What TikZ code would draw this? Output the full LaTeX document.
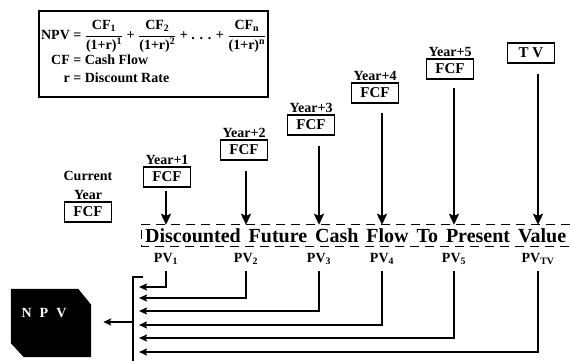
\documentclass[tikz,border=0pt]{standalone}
\usepackage{amsmath}
\usepackage{fontspec}
\setmainfont{Liberation Serif}
\usetikzlibrary{arrows.meta,positioning,calc}
\newcommand{\cfterm}[1]{$\dfrac{\text{CF\textsubscript{#1}}}{\text{(1+r)\textsuperscript{#1}}}$}

\begin{document}
\begin{tikzpicture}[
  x=1pt, y=-1pt,
  node distance=1pt,
  formbox/.style={draw, line width=2.2pt, anchor=north west, minimum width=219pt,
                  minimum height=86pt, inner sep=2pt, font=\fontsize{14}{17}\selectfont\bfseries},
  fcfbox/.style={draw, line width=1.3pt, minimum width=47pt, minimum height=20pt,
                 inner sep=1pt, font=\fontsize{15}{17}\selectfont\bfseries},
  yearlabel/.style={inner sep=1pt, align=center, font=\fontsize{14}{19}\selectfont\bfseries},
  pvlabel/.style={inner sep=1pt, font=\fontsize{14}{16}\selectfont\bfseries},
  dashtext/.style={inner xsep=4pt, minimum height=21pt, inner ysep=0pt,
                   font=\fontsize{20}{22}\selectfont\bfseries},
  dashline/.style={line width=1pt, dash pattern=on 9pt off 6pt},
  flowarrow/.style={line width=2.4pt, -{Stealth[length=11pt,width=10pt,inset=2pt]}},
  pvline/.style={line width=1.8pt, -{Stealth[length=8pt,width=7pt,inset=1.5pt]}},
  busline/.style={line width=1.8pt},
  npvbox/.style={minimum width=80pt, minimum height=68pt, inner sep=0pt},
  npvtext/.style={text=white, font=\fontsize{14}{16}\selectfont\bfseries},
]
  \useasboundingbox (0,0) rectangle (570,361);

  % Formula
  \node[formbox] (formula) at (38,10) {%
    \begin{tabular}{@{}r@{ = }l@{}}
      NPV & \cfterm{1} + \cfterm{2} + . . . + \cfterm{n}\\[3pt]
      CF & Cash Flow\\[1pt]
      r & Discount Rate
    \end{tabular}};

  % Cash flows per year
  \node[fcfbox] (f0) at (88,212) {FCF};
  \node[yearlabel, above=of f0] (y0) {Current\\Year};
  \foreach \i/\x/\y in {1/167/177, 2/244/150, 3/311/125, 4/375/93, 5/450/69} {
    \node[fcfbox] (f\i) at (\x,\y) {FCF};
    \node[yearlabel, above=of f\i] (y\i) {Year+\i};
  }
  \node[fcfbox] (tv) at (531,53) {T V};

  % Discounting row
  \node[dashtext, anchor=west] (dash) at (141,235.5)
    {\makebox[421pt][s]{Discounted Future Cash Flow To Present Value}};
  \draw[dashline] (dash.north east) -- (dash.north west) -- (dash.south west) -- (dash.south east);

  \foreach \n/\s/\x in {p1/1/166, p2/2/246, p3/3/319, p4/4/382, p5/5/454, ptv/TV/538}
    \node[pvlabel] (\n) at (\x,259) {PV\textsubscript{\s}};

  \foreach \f/\p/\g in {f1/p1/3, f2/p2/10, f3/p3/10, f4/p4/9, f5/p5/8, tv/ptv/10}
    \draw[flowarrow] ($(\f.south -| \p)+(0,\g)$) -- (\p |- dash.north);

  % Summing into NPV
  \coordinate (bustop) at (133,277);
  \coordinate (busbot) at (133,361);
  \coordinate (busmid) at (133,322);
  \draw[busline] ([xshift=10pt]bustop) -- (bustop) -- (busbot);
  \foreach \p/\y [count=\i] in {p1/287, p2/298, p3/311, p4/325, p5/338, ptv/352} {
    \coordinate (in\i) at (139,\y);
    \draw[pvline] ([yshift=-5pt]\p.south) |- (in\i);
  }

  \node[npvbox] (npv) at (51,323) {};
  \fill (npv.north west) -- ([xshift=-13pt]npv.north east) -- ([yshift=-16pt]npv.north east)
    -- (npv.south east) -- ([xshift=13pt]npv.south west) -- ([yshift=14pt]npv.south west) -- cycle;
  \node[npvtext] (npvlabel) at (44,313) {N\hspace{8pt}P\hspace{8pt}V};
  \draw[pvline, line width=2.2pt] (busmid) -- ([xshift=12pt]npv.east |- busmid);
\end{tikzpicture}
\end{document}
